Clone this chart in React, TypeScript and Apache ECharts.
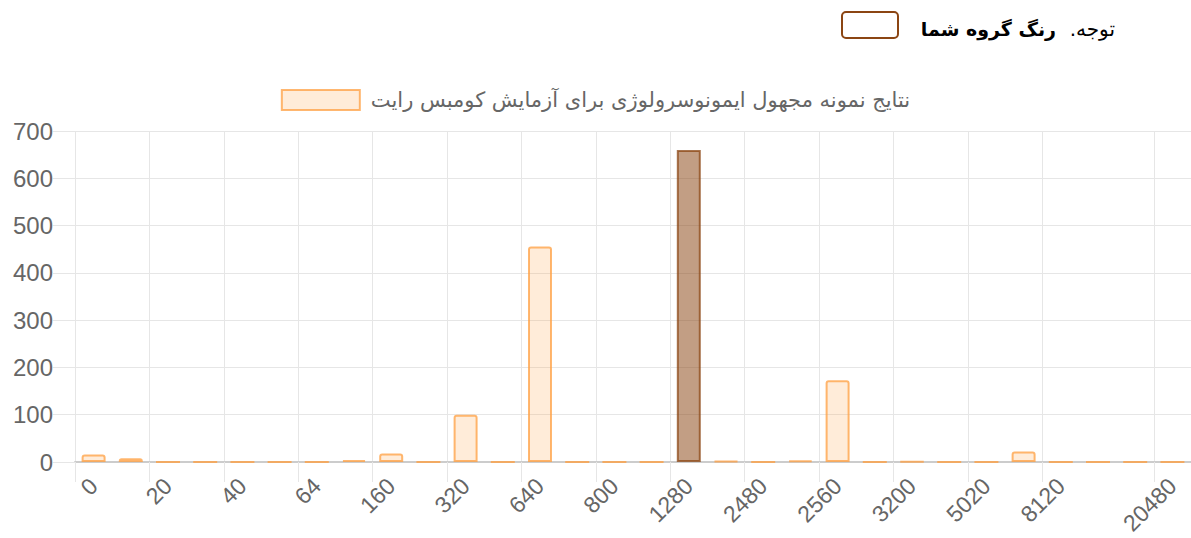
import React, { useEffect, useRef } from "react";
import * as echarts from "echarts";

const categories = [
  "0", "10", "20", "30", "40", "50", "64", "80", "160", "240",
  "320", "480", "640", "720", "800", "1000", "1280", "1920", "2480", "2520",
  "2560", "2880", "3200", "4000", "5020", "6400", "8120", "10240", "16000", "20480",
];
const values = [
  16, 8, 0, 0, 0, 0, 0, 4, 18, 0,
  100, 0, 456, 0, 0, 0, 660, 2, 0, 3,
  173, 0, 1, 0, 0, 22, 0, 0, 0, 0,
];
const yTicks = [0, 100, 200, 300, 400, 500, 600, 700];
const highlightIndex = 16;
const seriesName = "نتایج نمونه مجهول ایمونوسرولوژی برای آزمایش کومبس رایت";
const noteLabel = "توجه.\u200F";
const noteBold = "رنگ گروه شما";

const shown = (i: number) => (i % 2 === 0 && i < categories.length - 2) || i === categories.length - 1;

export default function App() {
  const ref = useRef<HTMLDivElement>(null);
  useEffect(() => {
    document.body.style.margin = "0";
    const chart = echarts.init(ref.current!, null, { renderer: "svg" });
    const orangeFill = "rgba(255,159,64,0.2)";
    const orangeBorder = "rgba(255,159,64,0.75)";
    chart.setOption({
      animation: false,
      grid: { left: 75, right: 0, top: 131, bottom: 76, containLabel: false },
      legend: {
        top: 84,
        left: "center",
        icon: "rect",
        itemWidth: 78,
        itemHeight: 20,
        itemGap: 10,
        itemStyle: { color: orangeFill, borderColor: orangeBorder, borderWidth: 2 },
        textStyle: { color: "#666", fontSize: 21, fontFamily: "DejaVu Sans", padding: [0, 0, 0, 6] },
        data: [seriesName],
      },
      xAxis: {
        type: "category",
        data: categories,
        boundaryGap: true,
        axisLine: { show: true, lineStyle: { color: "#cccccc", width: 2 } },
        axisTick: {
          show: true,
          interval: (i: number) => shown(i),
          length: 20,
          lineStyle: { color: "#e6e6e6", width: 1 },
        },
        splitLine: {
          show: true,
          interval: (i: number) => shown(i),
          lineStyle: { color: "#e6e6e6", width: 1 },
        },
        axisLabel: {
          interval: (i: number) => shown(i),
          rotate: 45,
          margin: 20,
          color: "#666",
          fontSize: 23,
          fontFamily: "Liberation Sans",
        },
      },
      yAxis: {
        type: "value",
        min: 0,
        max: 700,
        interval: 100,
        axisLine: { show: false },
        axisTick: { show: true, length: 22, lineStyle: { color: "#e6e6e6" } },
        splitLine: { show: true, lineStyle: { color: "#e6e6e6" } },
        axisLabel: {
          margin: 22,
          color: "#666",
          fontSize: 24,
          fontFamily: "Liberation Sans",
          formatter: (v: number) => (yTicks.includes(v) ? String(v) : ""),
        },
      },
      series: [
        {
          name: seriesName,
          type: "bar",
          barWidth: 24,
          itemStyle: { color: orangeFill, borderColor: orangeBorder, borderWidth: 2, borderRadius: [2, 2, 0, 0] },
          data: values.map((v, i) =>
            i === highlightIndex
              ? {
                  value: v,
                  itemStyle: {
                    color: "rgba(139,69,19,0.52)",
                    borderColor: "rgba(139,69,19,0.75)",
                    borderWidth: 2,
                    borderRadius: 0,
                  },
                }
              : v
          ),
        },
      ],
      graphic: [
        {
          type: "rect",
          shape: { x: 842, y: 12, width: 56, height: 26, r: 4 },
          style: { fill: "#fff", stroke: "#8B4513", lineWidth: 2 },
        },
        {
          type: "text",
          x: 1115,
          y: 29,
          style: {
            text: noteLabel,
            align: "right",
            verticalAlign: "middle",
            fontSize: 20,
            fontFamily: "DejaVu Sans",
            fill: "#000",
          },
        },
        {
          type: "text",
          x: 1056,
          y: 29,
          style: {
            text: noteBold,
            align: "right",
            verticalAlign: "middle",
            fontSize: 19,
            fontWeight: "bold",
            fontFamily: "DejaVu Sans",
            fill: "#000",
          },
        },
      ],
    });
    return () => chart.dispose();
  }, []);
  return <div ref={ref} style={{ width: 1191, height: 538 }} />;
}
